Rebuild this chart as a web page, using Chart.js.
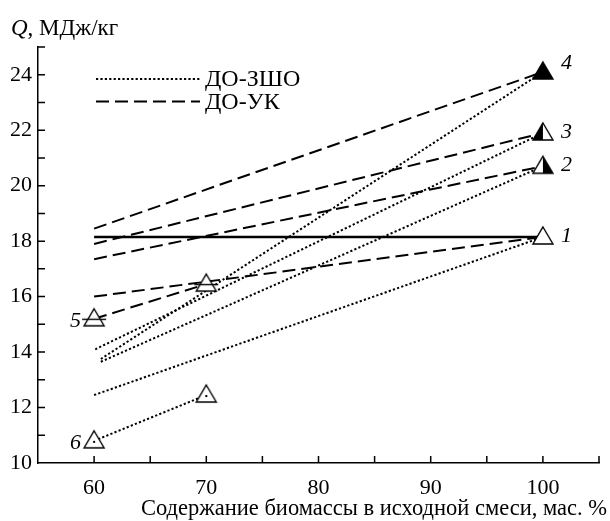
<!DOCTYPE html>
<html>
<head>
<meta charset="utf-8">
<script src="https://cdn.jsdelivr.net/npm/chart.js@4"></script>
<style>
  html, body { margin: 0; padding: 0; background: #fff; }
  #wrap { width: 610px; height: 521px; }
</style>
</head>
<body>
<div id="wrap"><canvas id="chart" width="610" height="521"></canvas></div>
<script>
// ----------------------------
// Data
// ----------------------------
const xTickValues = [60, 70, 80, 90, 100];
const yTickValues = [10, 12, 14, 16, 18, 20, 22, 24];

// horizontal solid line (curve 1 level)
const baseX = [60, 100];
const baseY = [18.15, 18.15];

// ДО-УК, dashed
const ukStartX = [60, 60, 60, 60, 60];
const ukStartY = [18.45, 17.9, 17.35, 16.0, 15.2];
const ukEndX = [100, 100, 100, 100, 70];
const ukEndY = [24.1, 21.9, 20.7, 18.15, 16.45];

// ДО-ЗШО, dotted
const zshoStartX = [60.1, 60.6, 60.6, 60, 60];
const zshoStartY = [14.1, 13.75, 13.65, 12.45, 10.8];
const zshoEndX = [100, 100, 100, 100, 70];
const zshoEndY = [21.9, 24.1, 20.7, 18.15, 12.45];

// experimental points
const markerX = [100, 100, 100, 100, 60, 70, 60, 70];
const markerY = [18.15, 20.7, 21.9, 24.1, 15.2, 16.45, 10.8, 12.45];
const markerKind = ['open', 'right', 'left', 'filled', 'bar', 'bar', 'dot', 'dot'];
const markerNumber = ['1', '2', '3', '4', '5', '', '6', ''];

const legendLabels = ['ДО-ЗШО', 'ДО-УК'];
const yTitle = 'МДж/кг';
const xTitle = 'Содержание биомассы в исходной смеси, мас. %';

// ----------------------------
// Style constants
// ----------------------------
const SERIF = '"Liberation Serif", "DejaVu Serif", serif';
const DOTTED = [2.2, 2.2];
const DASHED = [13, 6];

// triangle markers drawn into small canvases, used as pointStyle
const makeMarker = (kind) => {
  const c = document.createElement('canvas');
  c.width = 26; c.height = 26;
  const g = c.getContext('2d');
  const cx = 13, top = 3, base = 20, half = 10;
  const tri = () => {
    g.beginPath();
    g.moveTo(cx, top);
    g.lineTo(cx + half, base);
    g.lineTo(cx - half, base);
    g.closePath();
  };
  tri();
  g.fillStyle = kind === 'filled' ? '#000' : '#fff';
  g.fill();
  if (kind === 'left' || kind === 'right') {
    const s = kind === 'left' ? -1 : 1;
    g.beginPath();
    g.moveTo(cx, top);
    g.lineTo(cx + s * half, base);
    g.lineTo(cx, base);
    g.closePath();
    g.fillStyle = '#000';
    g.fill();
  }
  tri();
  g.lineWidth = 1.4;
  g.strokeStyle = '#000';
  g.stroke();
  if (kind === 'bar') {
    g.beginPath();
    g.moveTo(cx - 12, 13.5);
    g.lineTo(cx + 12, 13.5);
    g.stroke();
  }
  if (kind === 'dot') {
    g.fillStyle = '#000';
    g.fillRect(cx - 1, 13, 2, 2);
  }
  return c;
};

const segment = (x0, y0, x1, y1, dash, width) => ({
  data: [{ x: x0, y: y0 }, { x: x1, y: y1 }],
  borderColor: '#000',
  borderWidth: width,
  borderDash: dash,
  pointRadius: 0,
  fill: false,
  tension: 0,
  order: 2
});

const datasets = [];
datasets.push({
  type: 'scatter',
  data: markerX.map((x, i) => ({ x, y: markerY[i] })),
  pointStyle: markerKind.map(makeMarker),
  pointRadius: 10,
  order: 0
});
datasets.push(segment(baseX[0], baseY[0], baseX[1], baseY[1], [], 2.6));
ukStartX.forEach((x, i) => datasets.push(segment(x, ukStartY[i], ukEndX[i], ukEndY[i], DASHED, 2)));
zshoStartX.forEach((x, i) => datasets.push(segment(x, zshoStartY[i], zshoEndX[i], zshoEndY[i], DOTTED, 2)));

// ----------------------------
// Decorations: inward ticks, legend, titles, curve numbers
// ----------------------------
const decorations = {
  id: 'decorations',
  afterDraw(chart) {
    const { ctx, scales: { x, y } } = chart;
    const bottom = y.getPixelForValue(10);
    const left = x.getPixelForValue(55);
    ctx.save();
    ctx.strokeStyle = '#000';
    ctx.lineWidth = 1.5;
    ctx.setLineDash([]);
    ctx.beginPath();
    for (let v = 60; v <= 105; v += 5) {
      const px = x.getPixelForValue(v);
      ctx.moveTo(px, bottom);
      ctx.lineTo(px, bottom - 7);
    }
    for (let v = 11; v <= 25; v += 1) {
      const py = y.getPixelForValue(v);
      ctx.moveTo(left, py);
      ctx.lineTo(left + 7, py);
    }
    ctx.stroke();

    // legend
    const lx0 = 96, lx1 = 200;
    [[79, DOTTED, 2], [101.5, DASHED, 2]].forEach(([ly, dash, w], i) => {
      ctx.setLineDash(dash);
      ctx.lineWidth = w;
      ctx.beginPath();
      ctx.moveTo(lx0, ly);
      ctx.lineTo(lx1, ly);
      ctx.stroke();
      ctx.setLineDash([]);
      ctx.fillStyle = '#000';
      ctx.font = '24px ' + SERIF;
      ctx.textBaseline = 'middle';
      ctx.textAlign = 'left';
      ctx.fillText(legendLabels[i], 205, ly + 1);
    });

    // y title
    ctx.textBaseline = 'alphabetic';
    ctx.font = 'italic 23px ' + SERIF;
    ctx.fillText('Q', 11, 35);
    const qw = ctx.measureText('Q').width;
    ctx.font = '23px ' + SERIF;
    ctx.fillText(', ' + yTitle, 11 + qw, 35);

    // x title
    ctx.textAlign = 'right';
    ctx.font = '22.5px ' + SERIF;
    ctx.fillText(xTitle, 607, 515);

    // curve numbers
    ctx.font = 'italic 22px ' + SERIF;
    ctx.textBaseline = 'middle';
    markerNumber.forEach((label, i) => {
      if (!label) return;
      const px = x.getPixelForValue(markerX[i]);
      const py = y.getPixelForValue(markerY[i]);
      if (markerX[i] >= 100) {
        ctx.textAlign = 'left';
        ctx.fillText(label, px + 18, label === '4' ? py - 9 : py - 1);
      } else {
        ctx.textAlign = 'right';
        ctx.fillText(label, px - 13, py + 2);
      }
    });
    ctx.restore();
  }
};

new Chart(document.getElementById('chart'), {
  type: 'line',
  data: { datasets },
  options: {
    responsive: false,
    animation: false,
    layout: { padding: { top: 47, right: 10, left: 0, bottom: 0 } },
    plugins: { legend: { display: false }, tooltip: { enabled: false } },
    scales: {
      x: {
        type: 'linear',
        min: 55,
        max: 105,
        afterFit: (s) => { s.height = 58; },
        afterBuildTicks: (s) => { s.ticks = xTickValues.map(v => ({ value: v })); },
        grid: { display: false, drawTicks: false },
        border: { display: true, color: '#000', width: 1.5 },
        ticks: {
          autoSkip: false, maxRotation: 0, padding: 12, color: '#000',
          font: { family: SERIF, size: 22 }
        }
      },
      y: {
        type: 'linear',
        min: 10,
        max: 25,
        afterFit: (s) => { s.width = 38; },
        afterBuildTicks: (s) => { s.ticks = yTickValues.map(v => ({ value: v })); },
        grid: { display: false, drawTicks: false },
        border: { display: true, color: '#000', width: 1.5 },
        ticks: {
          autoSkip: false, padding: 6, color: '#000',
          font: { family: SERIF, size: 22 }
        }
      }
    }
  },
  plugins: [decorations]
});
</script>
</body>
</html>
